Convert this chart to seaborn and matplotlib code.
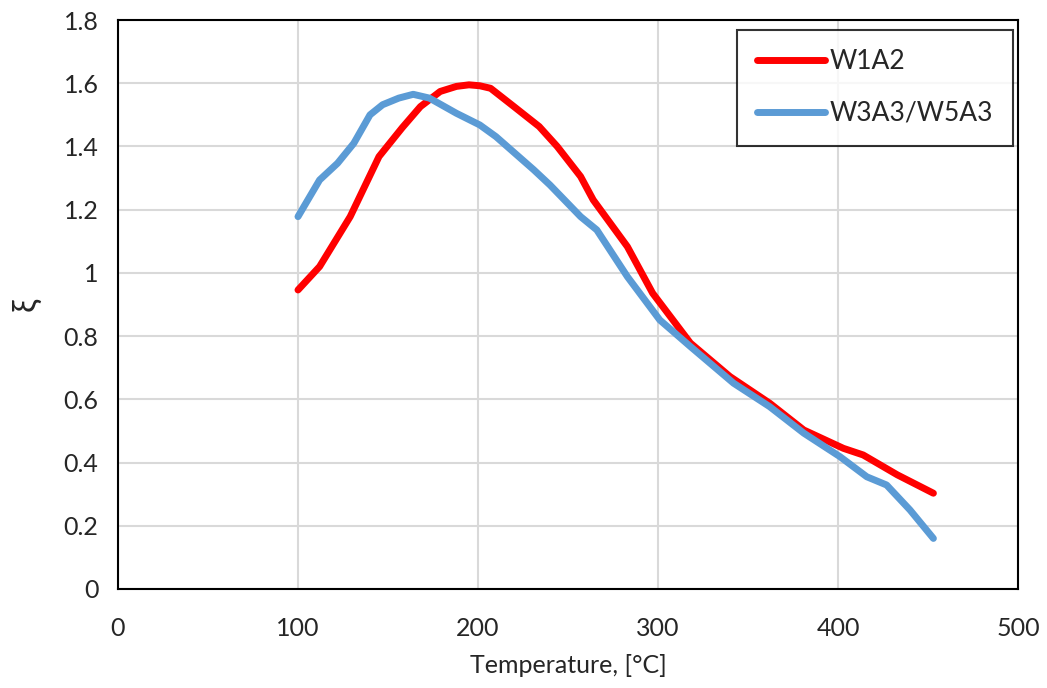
import matplotlib
matplotlib.use("Agg")
import matplotlib.pyplot as plt
import seaborn as sns
import pandas as pd

# data
temp_w1a2 = [100, 112, 129, 145, 158, 168, 179, 188, 195, 201, 207, 220, 234, 244, 257, 264, 283,
             297, 318, 340, 362, 381, 403, 414, 433, 453]
xi_w1a2 = [0.946, 1.02, 1.178, 1.368, 1.46, 1.526, 1.574, 1.590, 1.595, 1.592, 1.584, 1.526,
           1.463, 1.40, 1.305, 1.231, 1.083, 0.936, 0.778, 0.672, 0.588, 0.503, 0.445, 0.424,
           0.361, 0.303]

temp_w3a3 = [100, 112, 122, 131, 140, 147, 156, 164, 173, 188, 201, 210, 231, 240, 257, 266, 283,
             301, 318, 342, 362, 381, 401, 416, 427, 440, 453]
xi_w3a3 = [1.178, 1.294, 1.347, 1.41, 1.50, 1.532, 1.553, 1.565, 1.553, 1.505, 1.468, 1.431,
           1.326, 1.278, 1.178, 1.136, 0.988, 0.851, 0.767, 0.651, 0.577, 0.493, 0.419, 0.355,
           0.329, 0.25, 0.16]

labels = ["W1A2", "W3A3/W5A3"]
colors = ["#FF0000", "#5B9BD5"]

sns.set_style("white")
plt.rcParams["font.family"] = ["Lato", "DejaVu Sans"]

fig = plt.figure(figsize=(10.47, 6.88), dpi=100)
ax = fig.add_axes([0.1127, 0.1439, 0.8596, 0.827])

series = [(temp_w1a2, xi_w1a2), (temp_w3a3, xi_w3a3)]
for (t, v), lab, col in zip(series, labels, colors):
    df = pd.DataFrame({"T": t, "xi": v})
    sns.lineplot(data=df, x="T", y="xi", ax=ax, color=col, linewidth=5,
                 label=lab, sort=False, solid_capstyle="round", solid_joinstyle="round")

ax.set_xlim(0, 500)
ax.set_ylim(0, 1.8)
ax.set_xticks([0, 100, 200, 300, 400, 500])
ax.set_yticks([0, 0.2, 0.4, 0.6, 0.8, 1.0, 1.2, 1.4, 1.6, 1.8])
ax.set_yticklabels(["0", "0.2", "0.4", "0.6", "0.8", "1", "1.2", "1.4", "1.6", "1.8"])
ax.grid(True, color="#D9D9D9", linewidth=1.5)
ax.set_axisbelow(True)
for s in ax.spines.values():
    s.set_color("black")
    s.set_linewidth(1.5)

ax.tick_params(axis="both", labelsize=18, length=0, colors="#262626")
ax.tick_params(axis="x", pad=20)
ax.tick_params(axis="y", pad=14)
ax.set_xlabel("Temperature, [°C]", fontsize=18, color="#262626", labelpad=10)
ax.set_ylabel("ξ", fontsize=24, color="#262626", labelpad=16)

leg = ax.legend(loc="upper right", fontsize=19, frameon=True, fancybox=False,
                edgecolor="black", handlelength=2.6, handletextpad=0.15,
                labelspacing=1.0, borderpad=0.75, borderaxespad=0,
                bbox_to_anchor=(0.994, 0.983))
leg.get_frame().set_linewidth(1.5)

fig.savefig("out.png", dpi=100)
